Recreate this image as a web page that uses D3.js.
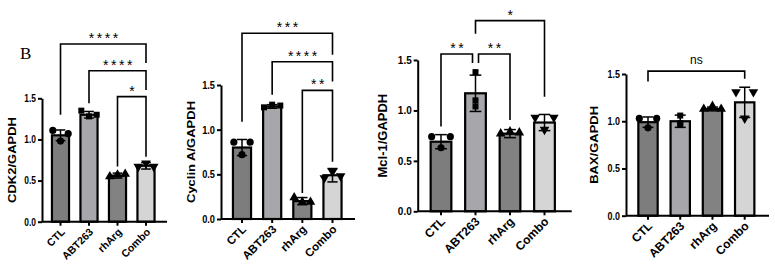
<!DOCTYPE html>
<html>
<head>
<meta charset="utf-8">
<script src="https://cdn.jsdelivr.net/npm/d3@7"></script>
<style>
body { margin: 0; background: #fff; }
svg { display: block; }
</style>
</head>
<body>
<svg id="chart" width="775" height="266"></svg>
<script>
// groups and y ticks (shared)
const groups = ['CTL', 'ABT263', 'rhArg', 'Combo'];
const yTicks = [0, 0.5, 1.0, 1.5];
const barColors = ['#7d7d7d', '#a6a6ab', '#828282', '#d5d5d5'];

// CDK2/GAPDH
const cdk2Mean = [1.05, 1.30, 0.56, 0.68];
const cdk2Sd = [0.065, 0.04, 0.03, 0.04];
const cdk2Points = [[1.11, 0.98, 1.07], [1.35, 1.28, 1.30], [0.55, 0.57, 0.58], [0.67, 0.71, 0.67]];
const cdk2Sig = [
    { a: 'CTL', b: 'Combo', label: '****', level: 2.16, ya: 1.30, yb: 1.93 },
    { a: 'ABT263', b: 'Combo', label: '****', level: 1.835, ya: 1.44, yb: 1.60 },
    { a: 'rhArg', b: 'Combo', label: '*', level: 1.52, ya: 0.67, yb: 0.79 }
];

// Cyclin A/GAPDH
const cycMean = [0.80, 1.26, 0.20, 0.49];
const cycSd = [0.09, 0.02, 0.04, 0.075];
const cycPoints = [[0.86, 0.72, 0.86], [1.25, 1.28, 1.27], [0.24, 0.19, 0.19], [0.46, 0.53, 0.48]];
const cycSig = [
    { a: 'CTL', b: 'Combo', label: '***', level: 2.08, ya: 1.09, yb: 1.84 },
    { a: 'ABT263', b: 'Combo', label: '****', level: 1.76, ya: 1.39, yb: 1.54 },
    { a: 'rhArg', b: 'Combo', label: '**', level: 1.44, ya: 0.29, yb: 0.64 }
];

// Mcl-1/GAPDH
const mclMean = [0.69, 1.17, 0.77, 0.88];
const mclSd = [0.07, 0.18, 0.04, 0.08];
const mclPoints = [[0.74, 0.63, 0.74], [1.04, 1.38, 1.10], [0.77, 0.79, 0.78], [0.93, 0.81, 0.93]];
const mclSig = [
    { a: 'CTL', b: 'ABT263', label: '**', level: 1.56, ya: 0.84, yb: 1.47, dxb: -3 },
    { a: 'ABT263', b: 'rhArg', label: '**', level: 1.56, ya: 1.47, yb: 0.905, dxa: 3 },
    { a: 'ABT263', b: 'Combo', label: '*', level: 1.89, ya: 1.76, yb: 1.135 }
];

// BAX/GAPDH
const baxMean = [0.99, 1.00, 1.13, 1.20];
const baxSd = [0.055, 0.065, 0.02, 0.16];
const baxPoints = [[1.03, 0.93, 1.03], [0.96, 1.06, 0.98], [1.13, 1.16, 1.13], [1.31, 1.03, 1.31]];
const baxSig = [
    { a: 'CTL', b: 'Combo', label: 'ns', level: 1.53, ya: 1.42, yb: 1.45 }
];

const symbols = [d3.symbolCircle, d3.symbolSquare, d3.symbolTriangle, d3.symbolTriangle];
const FONT = 'Arial, "Liberation Sans", sans-serif';

// panel layout (sx: horizontal squeeze of the text in each panel)
const panels = [
    { title: 'CDK2/GAPDH', mean: cdk2Mean, sd: cdk2Sd, points: cdk2Points, sig: cdk2Sig,
      left: 42, right: 167, c0: 60.5, c3: 146, y0: 221.7, yTop: 98.3, labelDx: 30, sx: 0.8, xFont: 10.5,
      jitter: [[-1, 0, 1], [-1, 0, 1], [-1, 0, 1], [-1, 0, 1]] },
    { title: 'Cyclin A/GAPDH', mean: cycMean, sd: cycSd, points: cycPoints, sig: cycSig,
      left: 221, right: 355, c0: 242, c3: 332.5, y0: 219, yTop: 85, labelDx: 30, sx: 0.88, xFont: 11.5,
      jitter: [[-1, 0, 1], [-1, 0, 1], [-1, 0, 1], [-1, 0, 1]] },
    { title: 'Mcl-1/GAPDH', mean: mclMean, sd: mclSd, points: mclPoints, sig: mclSig,
      left: 417.7, right: 571.7, c0: 441, c3: 544.5, y0: 211.3, yTop: 60, labelDx: 35, sx: 0.95, xFont: 12,
      jitter: [[-1, 0, 1], [0, 0, 0], [-1, 0, 1], [-1, 0, 1]] },
    { title: 'BAX/GAPDH', mean: baxMean, sd: baxSd, points: baxPoints, sig: baxSig,
      left: 626, right: 769, c0: 648, c3: 744.7, y0: 215.7, yTop: 74, labelDx: 32, sx: 0.85, xFont: 12,
      jitter: [[-1, 0, 1], [0, 0, 0], [-1, 0, 1], [-1, 0, 1]] }
];

let svg = d3.select('#chart');

function draw_panel(p) {
    let step = (p.c3 - p.c0) / 3;
    let x = d3.scaleBand()
        .domain(groups)
        .range([p.c0 - step / 2, p.c3 + step / 2])
        .paddingInner(0.4)
        .paddingOuter(0.2);
    let y = d3.scaleLinear()
        .domain([0, 1.5])
        .range([p.y0, p.yTop]);
    let cx = d => x(d) + x.bandwidth() / 2;
    let g = svg.append('g');

    // bars
    g.append('g')
        .selectAll('rect')
        .data(groups)
        .enter().append('rect')
        .attr('x', d => x(d))
        .attr('width', x.bandwidth())
        .attr('y', (d, i) => y(p.mean[i]))
        .attr('height', (d, i) => y(0) - y(p.mean[i]))
        .attr('fill', (d, i) => barColors[i])
        .attr('stroke', '#000')
        .attr('stroke-width', 2.2);

    // error bars
    let capW = step * 0.17;
    let eb = g.append('g').attr('stroke', '#000').attr('stroke-width', 1.5);
    groups.forEach((d, i) => {
        let hi = y(p.mean[i] + p.sd[i]);
        let lo = y(p.mean[i] - p.sd[i]);
        eb.append('line').attr('x1', cx(d)).attr('x2', cx(d)).attr('y1', hi).attr('y2', lo);
        eb.append('line').attr('x1', cx(d) - capW).attr('x2', cx(d) + capW).attr('y1', hi).attr('y2', hi);
        eb.append('line').attr('x1', cx(d) - capW).attr('x2', cx(d) + capW).attr('y1', lo).attr('y2', lo);
    });

    // points
    let pts = [];
    groups.forEach((d, i) => {
        p.points[i].forEach((v, j) => pts.push({ g: d, i: i, v: v, off: p.jitter[i][j] }));
    });
    g.append('g')
        .selectAll('path')
        .data(pts)
        .enter().append('path')
        .attr('d', d => d3.symbol().type(symbols[d.i]).size(d.i === 1 ? 36 : 40)())
        .attr('transform', d => `translate(${cx(d.g) + d.off * step * 0.27},${y(d.v)})` + (d.i === 3 ? ' rotate(180)' : ''))
        .attr('fill', '#000');

    // y axis
    let axis_y = d3.axisLeft(y)
        .tickValues(yTicks)
        .tickFormat(d3.format('.1f'))
        .tickSize(4)
        .tickSizeOuter(0);
    let gy = g.append('g')
        .attr('transform', `translate(${p.left},0)`)
        .call(axis_y)
        .attr('font-family', FONT);
    gy.select('.domain').attr('stroke', '#000').attr('stroke-width', 2);
    gy.selectAll('.tick line').attr('stroke', '#000').attr('stroke-width', 2);
    gy.selectAll('.tick text')
        .attr('x', null)
        .attr('transform', `translate(-6,0) scale(${p.sx},1)`)
        .attr('font-size', 10.5)
        .attr('font-weight', 'bold')
        .attr('fill', '#000');

    // x axis
    let axis_x = d3.axisBottom(x)
        .tickSize(4)
        .tickSizeOuter(0);
    let gx = g.append('g')
        .attr('transform', `translate(0,${p.y0})`)
        .call(axis_x)
        .attr('font-family', FONT);
    gx.select('.domain')
        .attr('d', `M${p.left},0H${p.right}`)
        .attr('stroke', '#000')
        .attr('stroke-width', 2);
    gx.selectAll('.tick line').attr('stroke', '#000').attr('stroke-width', 2);
    gx.selectAll('.tick text')
        .attr('y', null)
        .attr('dy', null)
        .attr('text-anchor', 'end')
        .attr('transform', 'translate(5,11) rotate(-45)')
        .attr('font-size', p.xFont)
        .attr('font-weight', 'bold')
        .attr('fill', '#000');

    // y label
    g.append('text')
        .attr('transform', `translate(${p.left - p.labelDx},${(p.y0 + p.yTop) / 2}) scale(${p.sx},1) rotate(-90)`)
        .attr('text-anchor', 'middle')
        .attr('dy', '0.35em')
        .attr('font-family', FONT)
        .attr('font-size', 13)
        .attr('font-weight', 'bold')
        .text(p.title);

    // significance brackets
    let sg = g.append('g');
    p.sig.forEach(s => {
        let xa = cx(s.a) + (s.dxa || 0);
        let xb = cx(s.b) + (s.dxb || 0);
        sg.append('path')
            .attr('d', `M${xa},${y(s.ya)}V${y(s.level)}H${xb}V${y(s.yb)}`)
            .attr('fill', 'none')
            .attr('stroke', '#000')
            .attr('stroke-width', 1.6);
        let isNs = s.label === 'ns';
        sg.append('text')
            .attr('x', (xa + xb) / 2 + (isNs ? 0 : 1.5))
            .attr('y', y(s.level) - (isNs ? 7 : 1))
            .attr('text-anchor', 'middle')
            .attr('font-family', FONT)
            .attr('font-size', isNs ? 12 : 14)
            .attr('letter-spacing', isNs ? 0 : 2.5)
            .text(s.label);
    });
}

panels.forEach(draw_panel);

// panel letter
svg.append('text')
    .attr('x', 20)
    .attr('y', 58.5)
    .attr('font-family', '"Liberation Serif", "Times New Roman", serif')
    .attr('font-size', 17)
    .text('B');
</script>
</body>
</html>
